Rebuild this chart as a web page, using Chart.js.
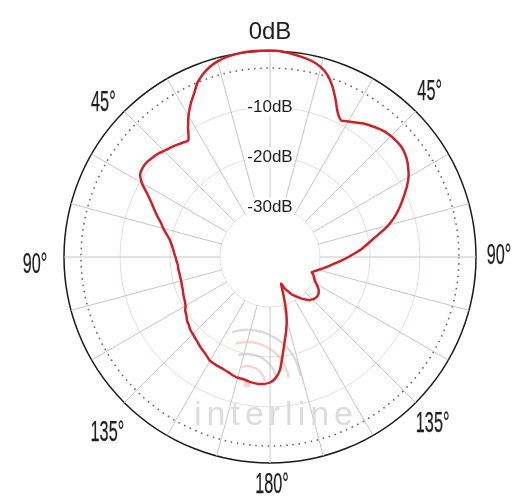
<!DOCTYPE html>
<html>
<head>
<meta charset="utf-8">
<script src="https://cdn.jsdelivr.net/npm/chart.js@4/dist/chart.umd.min.js"></script>
<style>
  html, body { margin: 0; padding: 0; background: #fff; }
  canvas { display: block; }
</style>
</head>
<body>
<canvas id="pattern" width="532" height="500"></canvas>
<script>
// azimuth in degrees, clockwise from the top, 2.5 degree steps
const angles = [];
for (let a = 0; a < 360; a += 2.5) angles.push(a);

// relative gain (dB)
const gain = [
  1.3, 1.25, 1.0, 0.7, 0.4, 0.0, -0.7, -1.8, -3.6, -5.8, -8.0, -9.2,
  -8.7, -8.1, -7.4, -6.9, -6.4, -6.0, -5.8, -5.7, -5.7, -6.0, -6.5, -7.2,
  -8.0, -9.1, -10.3, -11.5, -12.7, -14.0, -15.5, -17.3, -19.0, -20.4, -21.6, -23.0,
  -24.3, -25.5, -26.7, -27.7, -28.5, -29.3, -30.0, -30.6, -31.1, -30.6, -30.3, -29.9,
  -29.3, -28.6, -28.1, -27.8, -27.7, -27.8, -28.0, -28.3, -28.9, -29.5, -30.2, -30.8,
  -31.4, -32.3, -33.1, -34.2, -32.4, -29.7, -27.1, -25.0, -23.0, -20.4, -17.3, -15.7,
  -14.9, -14.6, -14.5, -14.6, -14.8, -15.0, -15.0, -15.2, -15.5, -15.7, -15.8, -15.9,
  -16.0, -16.5, -16.9, -17.2, -17.6, -17.9, -18.2, -18.4, -18.8, -19.1, -19.6, -19.9,
  -20.5, -20.8, -21.0, -21.2, -21.4, -21.5, -21.6, -21.6, -21.6, -21.5, -21.5, -21.3,
  -21.1, -20.8, -20.5, -20.1, -19.6, -18.8, -17.9, -17.1, -16.0, -14.9, -13.7, -12.2,
  -10.4, -9.2, -8.9, -8.9, -9.2, -9.5, -10.0, -10.4, -10.8, -11.2, -11.5, -9.5,
  -7.4, -5.6, -4.0, -2.2, -1.0, -0.1, 0.5, 0.9, 1.1, 1.25, 1.3, 1.3
];

const scaleMin = -40;
const scaleMax = 1.2;       // outer black circle
const dottedRing = -2.2;
const rings = [-40, -30, -20, -10, dottedRing, scaleMax];
const labeledRings = [-30, -20, -10];

const spokeStep = 15;
const dirAngles = [0, 45, 90, 135, 180, 225, 270, 315];
const dirTexts = ['0dB', '45°', '90°', '135°', '180°', '135°', '90°', '45°'];

const RED = '#cf2027';

// small hand placement tweaks for the direction labels [dx, dy]
const nudge = [[0, -1], [-3, -2], [-1, -1], [0, 4], [2, -2], [0, 13], [-5, 8], [-4, 9]];

const decor = {
  id: 'decor',
  beforeDatasetsDraw(chart) {
    const s = chart.scales.r;
    const ctx = chart.ctx;
    const cx = s.xCenter, cy = s.yCenter;
    const r30 = s.getDistanceFromCenterForValue(-30);
    ctx.save();
    // blank centre
    ctx.fillStyle = '#fff';
    ctx.beginPath();
    ctx.arc(cx, cy, r30 - 0.5, 0, Math.PI * 2);
    ctx.fill();
    // watermark logo
    const lx = cx - 23, ly = cy + 127;
    ctx.lineWidth = 2.5;
    [18, 30, 42, 54].forEach((rr, k) => {
      ctx.strokeStyle = k % 2 ? 'rgba(195,195,195,0.6)' : 'rgba(245,170,160,0.5)';
      ctx.beginPath();
      ctx.arc(lx, ly, rr, -1.85, -0.15);
      ctx.stroke();
    });
    ctx.fillStyle = 'rgba(245,170,160,0.55)';
    ctx.beginPath();
    ctx.arc(lx, ly, 3.5, 0, Math.PI * 2);
    ctx.fill();
    // watermark text
    ctx.fillStyle = '#dcdcdc';
    ctx.font = '34px "Liberation Sans", Arial, sans-serif';
    ctx.textAlign = 'center';
    ctx.textBaseline = 'alphabetic';
    ctx.letterSpacing = '5px';
    ctx.fillText('interline', cx + 6, cy + 168);
    ctx.restore();
  },
  afterDraw(chart) {
    const s = chart.scales.r;
    const ctx = chart.ctx;
    ctx.save();
    ctx.fillStyle = '#1e1e1e';
    ctx.strokeStyle = '#1e1e1e';
    ctx.textAlign = 'center';
    ctx.textBaseline = 'middle';
    dirAngles.forEach((a, k) => {
      const idx = angles.indexOf(a);
      const [dx, dy] = nudge[k];
      if (k === 0) {
        const p = s.getPointPosition(idx, s.drawingArea + 18);
        ctx.font = '24px "Liberation Sans", Arial, sans-serif';
        ctx.fillText(dirTexts[k], p.x + dx, p.y + dy);
      } else {
        const p = s.getPointPosition(idx, s.drawingArea + 24);
        ctx.save();
        ctx.translate(p.x + dx, p.y + dy);
        ctx.scale(0.56, 1);
        ctx.font = '29px "Liberation Sans", Arial, sans-serif';
        ctx.lineWidth = 0.25;
        ctx.fillText(dirTexts[k], 0, 0);
        ctx.strokeText(dirTexts[k], 0, 0);
        ctx.restore();
      }
    });
    ctx.restore();
  }
};

new Chart(document.getElementById('pattern'), {
  type: 'radar',
  data: {
    labels: angles.map(a => a + '°'),
    datasets: [{
      data: gain,
      borderColor: RED,
      borderWidth: 2.5,
      fill: false,
      pointRadius: 0,
      tension: 0.25
    }]
  },
  options: {
    responsive: false,
    animation: false,
    devicePixelRatio: 1,
    layout: { padding: { left: 54, top: 41, right: 46, bottom: 27 } },
    plugins: { legend: { display: false }, tooltip: { enabled: false } },
    scales: {
      r: {
        min: scaleMin,
        max: scaleMax,
        afterBuildTicks: (scale) => { scale.ticks = rings.map(v => ({ value: v })); },
        pointLabels: { display: false },
        angleLines: {
          color: '#c6c6c6',
          lineWidth: (c) => (angles[c.index] % spokeStep === 0 ? 1 : 0)
        },
        grid: {
          circular: true,
          color: (c) => c.tick.value === scaleMax ? '#1a1a1a'
            : c.tick.value === dottedRing ? '#6a6a6a' : '#eadada',
          lineWidth: (c) => c.tick.value === scaleMax ? 1.5 : (c.tick.value === dottedRing ? 1.6 : 1)
        },
        border: {
          dash: (c) => c.tick && c.tick.value === dottedRing ? [1.6, 4.6] : []
        },
        ticks: {
          z: 1,
          color: '#1e1e1e',
          font: { family: '"Liberation Sans", Arial, sans-serif', size: 17 },
          callback: (v) => labeledRings.includes(v) ? v + 'dB' : '',
          showLabelBackdrop: (c) => c.tick && labeledRings.includes(c.tick.value),
          backdropColor: '#fff',
          backdropPadding: { x: 1, y: 1 }
        }
      }
    }
  },
  plugins: [decor]
});
</script>
</body>
</html>
